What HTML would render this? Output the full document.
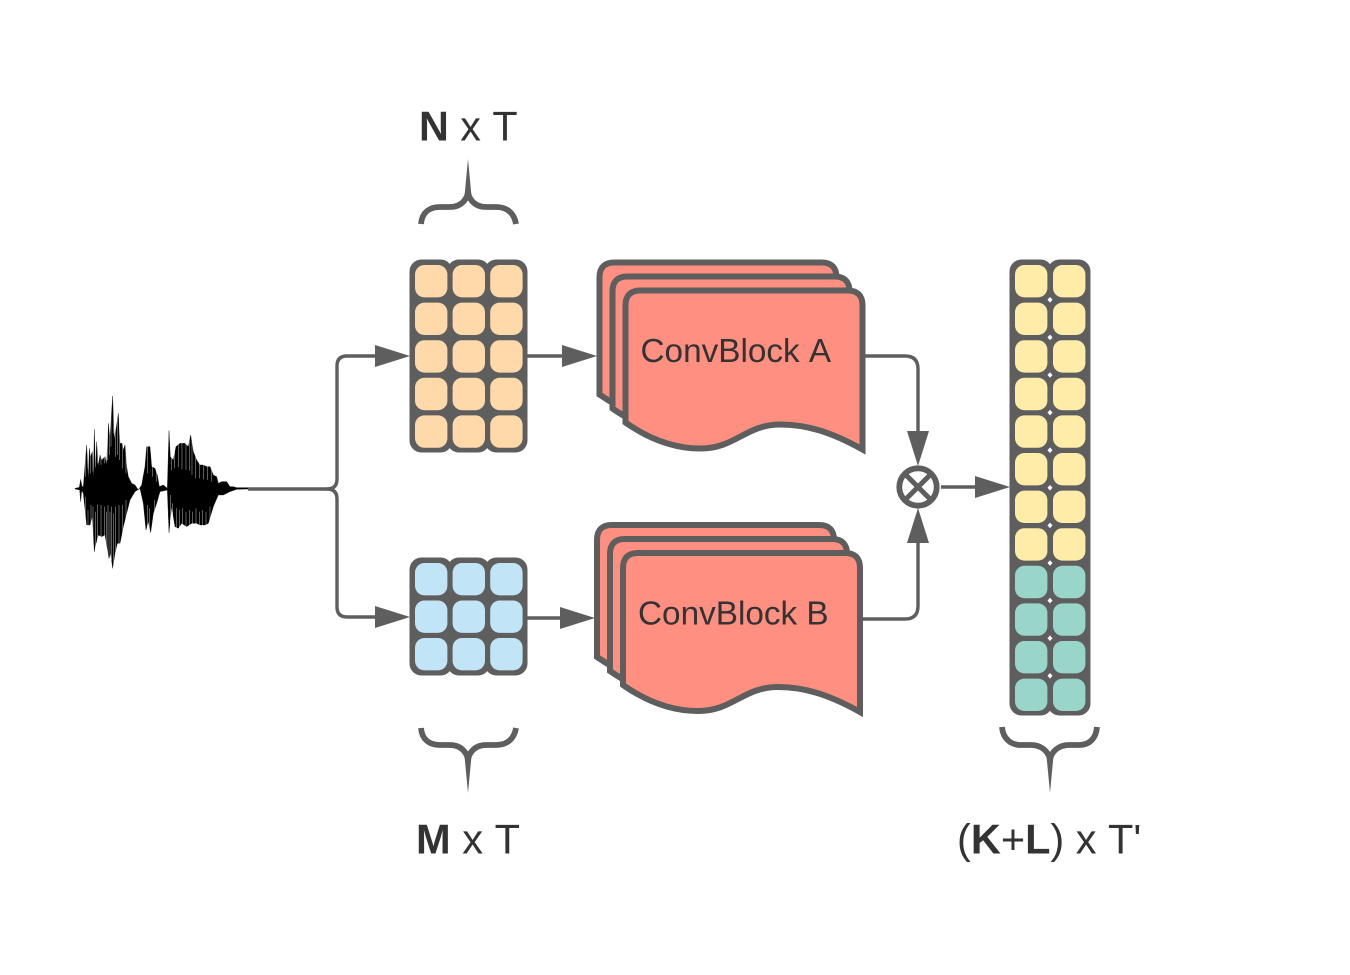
<!DOCTYPE html>
<html>
<head>
<meta charset="utf-8">
<style>
html,body{margin:0;padding:0;background:#fff}
svg{display:block}
text{font-family:"Liberation Sans",sans-serif;fill:#333;font-kerning:none}
.c rect{width:32.4px;height:32.4px;rx:9.5px;ry:9.5px}
.bk rect{fill:#5e5e5e;rx:12px;ry:12px}
.o rect{fill:#ffd9aa}
.b rect{fill:#c1e4f7}
.y rect{fill:#ffeca9}
.t rect{fill:#9ad5ca}
.l{fill:none;stroke:#5e5e5e;stroke-width:3.4}
.h{fill:#5e5e5e}
.br{fill:none;stroke:#5e5e5e;stroke-width:5.8}
.card{fill:#ff8f80;stroke:#5e5e5e;stroke-width:6}
</style>
</head>
<body>
<svg width="1350" height="975" viewBox="0 0 1350 975" xmlns="http://www.w3.org/2000/svg">
<!-- waveform -->
<g transform="translate(60,380) scale(0.3333)">
<polygon fill="#000" stroke="#000" stroke-width="1" points="45,325 58,322 62,298 66,320 70,320 80,195 85,300 88,205 92,230 97,215 100,300 103,148 107,260 110,185 115,260 120,225 125,240 130,235 135,230 140,255 145,130 150,170 158,48 163,180 170,135 175,100 180,190 186,190 190,210 195,195 200,260 205,290 215,310 225,315 235,330 245,315 255,260 260,200 270,200 275,260 285,265 292,285 298,320 310,315 322,325 327,152 331,230 340,240 348,200 360,190 375,190 385,200 392,165 400,215 410,240 420,255 430,255 440,260 450,260 460,285 470,290 475,310 485,305 500,305 510,320 520,320 530,323 565,323 565,327 530,328 510,335 490,345 475,345 460,380 445,430 435,435 420,435 410,430 395,430 380,440 365,430 355,445 345,440 335,380 327,458 322,330 300,335 290,370 280,400 272,458 265,425 258,450 250,370 240,325 225,335 210,360 200,400 190,440 180,490 172,490 165,520 158,565 152,520 147,535 135,465 125,470 115,465 108,490 103,515 97,410 90,435 80,435 70,340 65,332 62,365 59,330 45,327"/>
<path fill="none" stroke="#fff" stroke-width="1.4" opacity=".8" d="M76,180V290M84,190V265M91,190V280M99,140V275M106,140V262M113,170V250M123,210V255M133,210V250M143,120V240M148,120V225M153,40V200M161,40V160M166,120V230M172,90V225M178,90V240M188,180V265M198,180V280M263,190V280M277,240V290M289,260V305M334,210V270M344,190V265M355,180V262M366,180V268M378,180V270M388,160V272M396,150V285M407,230V295M418,240V295M430,245V298M442,250V300M455,260V305"/>
<path fill="none" stroke="#fff" stroke-width="1.4" opacity=".8" d="M76,350V450M84,390V450M93,375V450M99,380V530M106,395V530M112,375V480M123,375V480M133,380V480M139,395V545M144,375V545M150,395V530M155,380V540M161,400V575M167,380V530M177,375V500M188,375V460M198,360V420M262,375V440M268,385V470M284,360V410M331,345V470M338,370V455M349,385V455M358,390V450M368,385V445M378,395V450M388,390V445M398,395V440M408,385V440M418,395V445M428,390V445M438,395V445M450,380V430"/>
</g>
<!-- input lines -->
<path class="l" d="M248,489H327Q337,489 337,479V366Q337,356 347,356H378"/>
<path class="l" d="M327,489Q337,489 337,499V607Q337,617 347,617H378"/>
<polygon class="h" points="375,345 410,356 375,367"/>
<polygon class="h" points="375,606 410,617 375,628"/>
<!-- orange grid -->
<g class="bk">
<rect x="409.5" y="259.5" width="43" height="193"/><rect x="447" y="259.5" width="43" height="193"/><rect x="484.5" y="259.5" width="43" height="193"/>
</g>
<g class="c o">
<rect x="415" y="265"/><rect x="452.6" y="265"/><rect x="490.2" y="265"/>
<rect x="415" y="302.6"/><rect x="452.6" y="302.6"/><rect x="490.2" y="302.6"/>
<rect x="415" y="340.2"/><rect x="452.6" y="340.2"/><rect x="490.2" y="340.2"/>
<rect x="415" y="377.8"/><rect x="452.6" y="377.8"/><rect x="490.2" y="377.8"/>
<rect x="415" y="415.4"/><rect x="452.6" y="415.4"/><rect x="490.2" y="415.4"/>
</g>
<!-- blue grid -->
<g class="bk">
<rect x="409.5" y="557.5" width="43" height="118"/><rect x="447" y="557.5" width="43" height="118"/><rect x="484.5" y="557.5" width="43" height="118"/>
</g>
<g class="c b">
<rect x="415" y="563"/><rect x="452.6" y="563"/><rect x="490.2" y="563"/>
<rect x="415" y="600.5"/><rect x="452.6" y="600.5"/><rect x="490.2" y="600.5"/>
<rect x="415" y="638"/><rect x="452.6" y="638"/><rect x="490.2" y="638"/>
</g>
<!-- grid to blocks -->
<path class="l" d="M527,356H565"/>
<polygon class="h" points="562,345 597,356 562,367"/>
<path class="l" d="M527,618H563"/>
<polygon class="h" points="560,607 595,618 560,629"/>
<!-- ConvBlock A -->
<defs>
<path id="cd" d="M0,132V15Q0,0 15,0H222Q237,0 237,15V159C205,141 180,134 155,134C120,134 110,158 75,158C45,158 20,146 0,132Z"/>
</defs>
<use href="#cd" class="card" transform="translate(599.5,262.5)"/>
<use href="#cd" class="card" transform="translate(612.5,276.5)"/>
<use href="#cd" class="card" transform="translate(625.5,290.5)"/>
<text x="640.5" y="362" font-size="33.3">ConvBlock A</text>
<!-- ConvBlock B -->
<use href="#cd" class="card" transform="translate(597,525)"/>
<use href="#cd" class="card" transform="translate(610,539)"/>
<use href="#cd" class="card" transform="translate(623,553)"/>
<text x="638" y="624.5" font-size="33.3">ConvBlock B</text>
<!-- to merge -->
<path class="l" d="M865,356H905Q918,356 918,369V435"/>
<polygon class="h" points="907,431 929,431 918,466"/>
<path class="l" d="M862,619H905Q918,619 918,606V540"/>
<polygon class="h" points="907,543 929,543 918,508"/>
<circle cx="918" cy="487" r="18.7" fill="#fff" stroke="#5e5e5e" stroke-width="5.8"/>
<path d="M905,474L931,500M931,474L905,500" stroke="#5e5e5e" stroke-width="5" fill="none"/>
<path class="l" d="M941,487H978"/>
<polygon class="h" points="975,476 1010,487 975,498"/>
<!-- right column -->
<g class="bk">
<rect x="1009.5" y="259.5" width="43" height="456"/><rect x="1047.5" y="259.5" width="43" height="456"/>
</g>
<g class="c y">
<rect x="1015" y="265"/><rect x="1053" y="265"/>
<rect x="1015" y="302.6"/><rect x="1053" y="302.6"/>
<rect x="1015" y="340.2"/><rect x="1053" y="340.2"/>
<rect x="1015" y="377.8"/><rect x="1053" y="377.8"/>
<rect x="1015" y="415.4"/><rect x="1053" y="415.4"/>
<rect x="1015" y="453"/><rect x="1053" y="453"/>
<rect x="1015" y="490.6"/><rect x="1053" y="490.6"/>
<rect x="1015" y="528.2"/><rect x="1053" y="528.2"/>
</g>
<g class="c t">
<rect x="1015" y="565.8"/><rect x="1053" y="565.8"/>
<rect x="1015" y="603.4"/><rect x="1053" y="603.4"/>
<rect x="1015" y="641"/><rect x="1053" y="641"/>
<rect x="1015" y="678.6"/><rect x="1053" y="678.6"/>
</g>
<g fill="#fff">
<polygon points="1050,297 1052.5,299.8 1050,302.6 1047.5,299.8"/>
<polygon points="1050,334.6 1052.5,337.4 1050,340.2 1047.5,337.4"/>
<polygon points="1050,372.2 1052.5,375 1050,377.8 1047.5,375"/>
<polygon points="1050,409.8 1052.5,412.6 1050,415.4 1047.5,412.6"/>
<polygon points="1050,447.4 1052.5,450.2 1050,453 1047.5,450.2"/>
<polygon points="1050,485 1052.5,487.8 1050,490.6 1047.5,487.8"/>
<polygon points="1050,522.6 1052.5,525.4 1050,528.2 1047.5,525.4"/>
<polygon points="1050,560.2 1052.5,563 1050,565.8 1047.5,563"/>
<polygon points="1050,597.8 1052.5,600.6 1050,603.4 1047.5,600.6"/>
<polygon points="1050,635.4 1052.5,638.2 1050,641 1047.5,638.2"/>
<polygon points="1050,673 1052.5,675.8 1050,678.6 1047.5,675.8"/>
</g>
<!-- braces -->
<path class="br" d="M421,224C422,212 430,207 440,207H450C460,207 466,201 468,193C470,201 476,207 486,207H496C506,207 514,212 516,224"/>
<polygon class="h" points="468,159 471.5,196 464.5,196"/>
<path class="br" d="M421,728C422,740 430,745 440,745H450C460,745 466,751 468,759C470,751 476,745 486,745H496C506,745 514,740 516,728"/>
<polygon class="h" points="468,793 471.5,756 464.5,756"/>
<path class="br" d="M1002,727C1003,739 1011,745 1021,745H1031C1041,745 1048,751 1050,759C1052,751 1059,745 1069,745H1079C1089,745 1096,739 1097,727"/>
<polygon class="h" points="1050,793 1053.5,756 1046.5,756"/>
<!-- labels -->
<text x="419" y="140.5" font-size="41.3"><tspan font-weight="bold">N</tspan> x T</text>
<text x="416" y="853.5" font-size="41.6"><tspan font-weight="bold">M</tspan> x T</text>
<text x="957" y="853.5" font-size="41.5">(<tspan font-weight="bold">K</tspan>+<tspan font-weight="bold">L</tspan>) x T'</text>
</svg>
</body>
</html>
